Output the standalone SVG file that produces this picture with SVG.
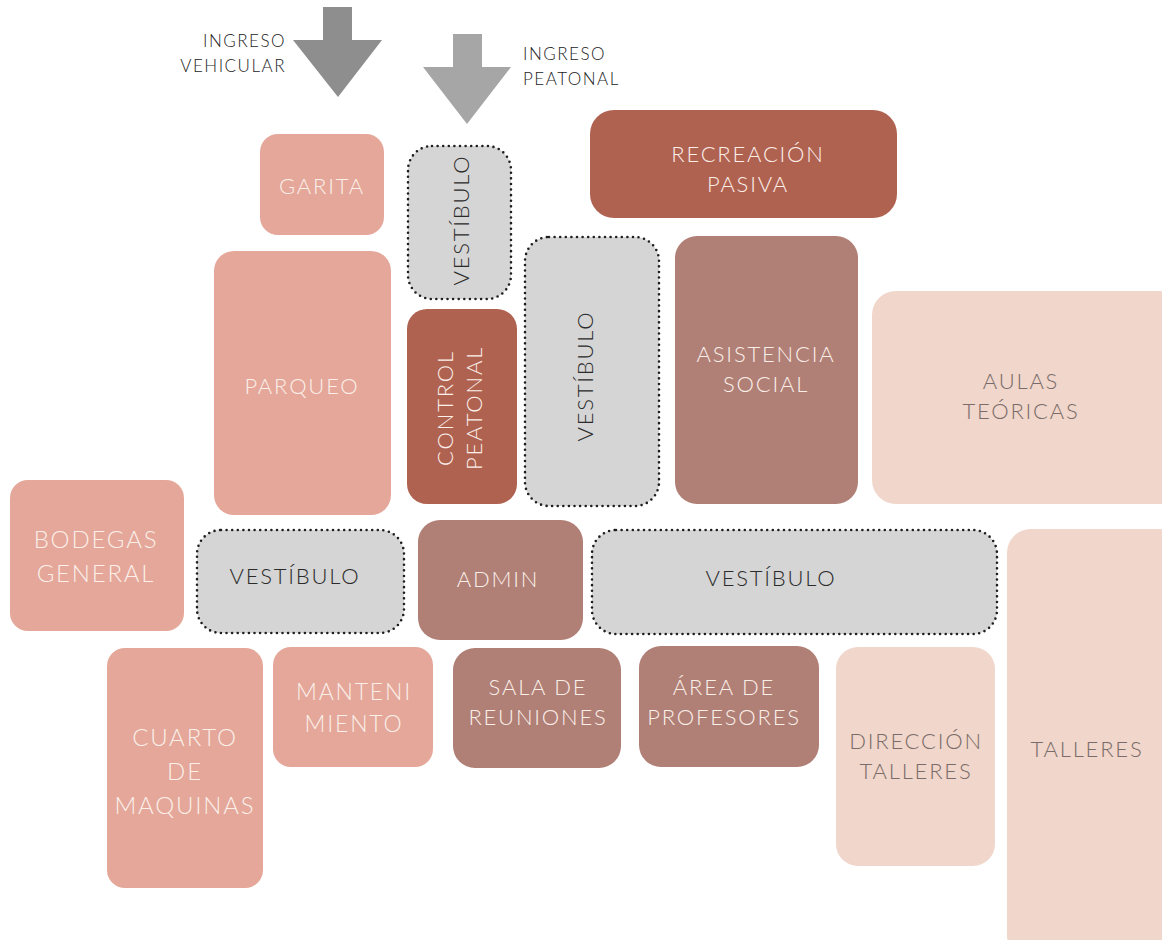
<svg xmlns="http://www.w3.org/2000/svg" width="1162" height="940" viewBox="0 0 1162 940">
<style>
.t{font-family:Lato,"Liberation Sans",sans-serif;font-weight:300;text-anchor:middle;letter-spacing:1.8px;font-size:22px}
.lt{fill:#fbefe9}
.dk{fill:#2b2b2b}
.gr{fill:#7a6c68}
.lab{font-family:Lato,"Liberation Sans",sans-serif;font-weight:300;font-size:17px;fill:#1c1c1c;letter-spacing:1.5px}
.salmon{fill:#e4a79a}
.terra{fill:#b06251}
.mauve{fill:#b07f76}
.light{fill:#f0d6cb}
.vest{fill:#d5d5d5;stroke:#1e1e1e;stroke-width:2.6;stroke-dasharray:0 5.6;stroke-linecap:round}
</style>
<rect width="1162" height="940" fill="#ffffff"/>
<g id="connectors">
<polygon id="arrow-vehicular" points="323,7 352,7 352,40 382,40 338,97 293,40 323,40" fill="#8e8e8e"/>
<polygon id="arrow-peatonal" points="453,34 482,34 482,67 511,67 467,124 423,67 453,67" fill="#a6a6a6"/>
</g>
<g id="label-ingreso-vehicular">
<text class="lab" x="286" y="47" text-anchor="end">INGRESO</text>
<text class="lab" x="286" y="72" text-anchor="end">VEHICULAR</text>
</g>
<g id="label-ingreso-peatonal">
<text class="lab" x="523" y="60">INGRESO</text>
<text class="lab" x="523" y="85">PEATONAL</text>
</g>
<g id="garita">
<rect class="salmon" x="260" y="134" width="124" height="101" rx="18"/>
<text class="t lt" x="322" y="194">GARITA</text>
</g>
<g id="vestibulo-1">
<rect class="vest" x="408" y="146" width="103" height="153" rx="24"/>
<text class="t dk" transform="translate(461,220) rotate(-90)" x="0" y="8">VESTÍBULO</text>
</g>
<g id="recreacion-pasiva">
<rect class="terra" x="590" y="110" width="307" height="108" rx="24"/>
<text class="t lt" x="748" y="162">RECREACIÓN</text>
<text class="t lt" x="748" y="192">PASIVA</text>
</g>
<g id="parqueo">
<rect class="salmon" x="214" y="251" width="177" height="264" rx="20"/>
<text class="t lt" x="302" y="394">PARQUEO</text>
</g>
<g id="control-peatonal">
<rect class="terra" x="407" y="309" width="110" height="195" rx="20"/>
<g transform="translate(462,408) rotate(-90)">
<text class="t lt" x="0" y="-9">CONTROL</text>
<text class="t lt" x="0" y="20">PEATONAL</text>
</g>
</g>
<g id="vestibulo-2">
<rect class="vest" x="525" y="237" width="134" height="269" rx="24"/>
<text class="t dk" transform="translate(585,376) rotate(-90)" x="0" y="8">VESTÍBULO</text>
</g>
<g id="asistencia-social">
<rect class="mauve" x="675" y="236" width="183" height="268" rx="22"/>
<text class="t lt" x="766" y="362">ASISTENCIA</text>
<text class="t lt" x="766" y="392">SOCIAL</text>
</g>
<g id="aulas-teoricas">
<rect class="light" x="872" y="291" width="310" height="213" rx="24"/>
<text class="t gr" x="1021" y="389">AULAS</text>
<text class="t gr" x="1021" y="419">TEÓRICAS</text>
</g>
<g id="bodegas-general">
<rect class="salmon" x="10" y="480" width="174" height="151" rx="18"/>
<text class="t lt" x="96" y="548" style="font-size:24px">BODEGAS</text>
<text class="t lt" x="96" y="582" style="font-size:24px">GENERAL</text>
</g>
<g id="vestibulo-3">
<rect class="vest" x="197" y="530" width="207" height="103" rx="24"/>
<text class="t dk" x="295" y="584">VESTÍBULO</text>
</g>
<g id="admin">
<rect class="mauve" x="418" y="520" width="165" height="120" rx="22"/>
<text class="t lt" x="498" y="587">ADMIN</text>
</g>
<g id="vestibulo-4">
<rect class="vest" x="592" y="530" width="405" height="104" rx="24"/>
<text class="t dk" x="771" y="586">VESTÍBULO</text>
</g>
<g id="talleres">
<rect class="light" x="1007" y="529" width="175" height="430" rx="24"/>
<text class="t gr" x="1087" y="757">TALLERES</text>
</g>
<g id="cuarto-de-maquinas">
<rect class="salmon" x="107" y="648" width="156" height="240" rx="18"/>
<text class="t lt" x="185" y="746" style="font-size:24px">CUARTO</text>
<text class="t lt" x="185" y="780" style="font-size:24px">DE</text>
<text class="t lt" x="185" y="814" style="font-size:24px">MAQUINAS</text>
</g>
<g id="mantenimiento">
<rect class="salmon" x="273" y="647" width="160" height="120" rx="18"/>
<text class="t lt" x="354" y="700" style="font-size:23px">MANTENI</text>
<text class="t lt" x="354" y="732" style="font-size:23px">MIENTO</text>
</g>
<g id="sala-de-reuniones">
<rect class="mauve" x="453" y="648" width="168" height="120" rx="22"/>
<text class="t lt" x="538" y="695">SALA DE</text>
<text class="t lt" x="538" y="725">REUNIONES</text>
</g>
<g id="area-de-profesores">
<rect class="mauve" x="639" y="646" width="180" height="121" rx="22"/>
<text class="t lt" x="724" y="695">ÁREA DE</text>
<text class="t lt" x="724" y="725">PROFESORES</text>
</g>
<g id="direccion-talleres">
<rect class="light" x="836" y="647" width="159" height="219" rx="22"/>
<text class="t gr" x="916" y="749">DIRECCIÓN</text>
<text class="t gr" x="916" y="779">TALLERES</text>
</g>
</svg>
